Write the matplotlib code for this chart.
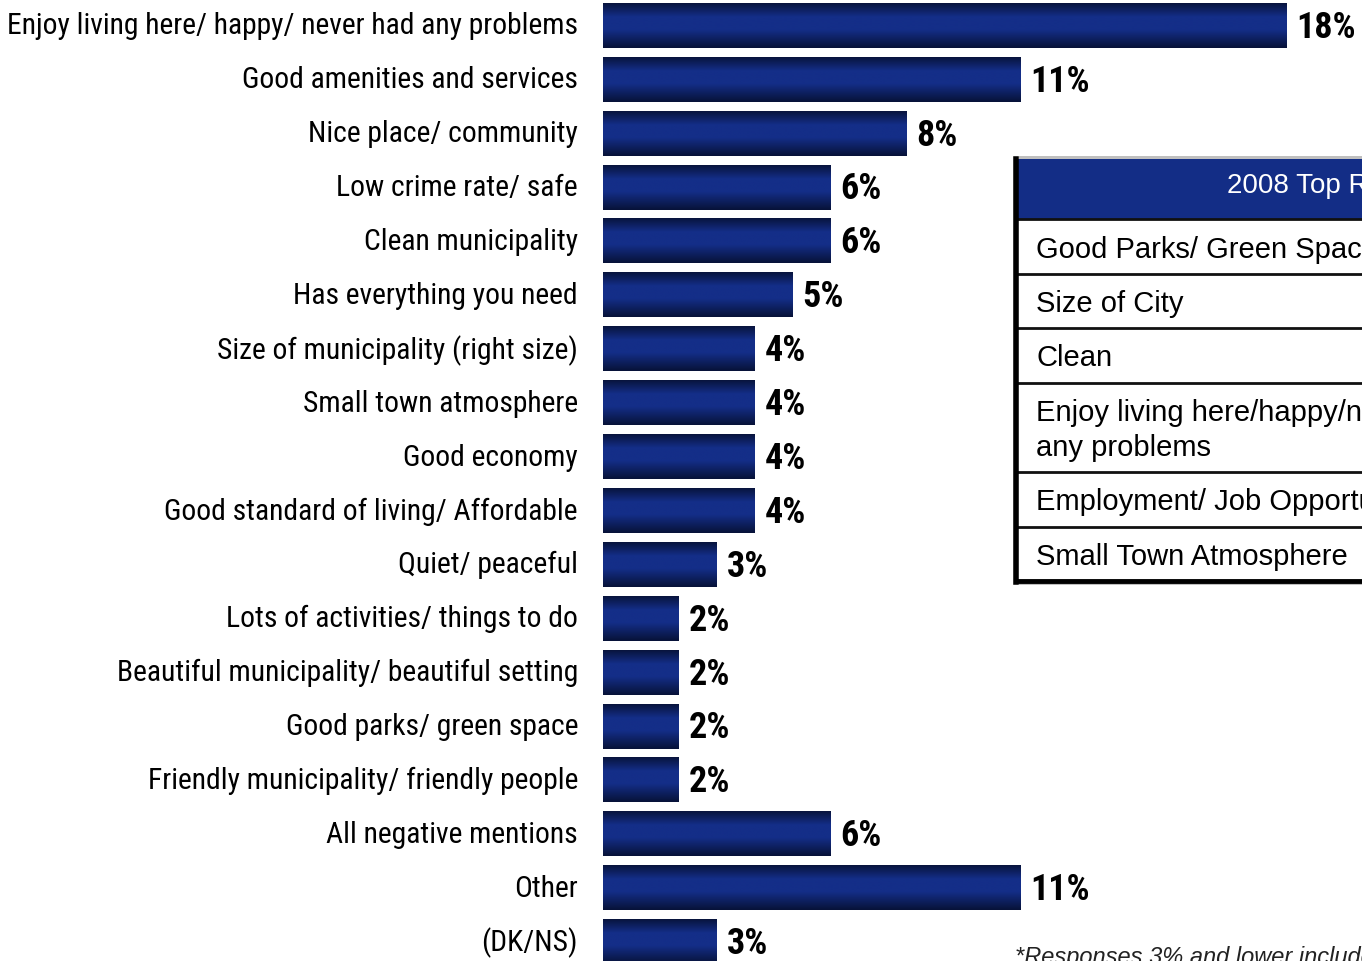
import numpy as np
import matplotlib
matplotlib.use("Agg")
import matplotlib.pyplot as plt
import matplotlib.patches as mpatches
import matplotlib.transforms as mtransforms
from matplotlib import font_manager

categories = ["Enjoy living here/ happy/ never had any problems",
              "Good amenities and services",
              "Nice place/ community",
              "Low crime rate/ safe",
              "Clean municipality",
              "Has everything you need",
              "Size of municipality (right size)",
              "Small town atmosphere",
              "Good economy",
              "Good standard of living/ Affordable",
              "Quiet/ peaceful",
              "Lots of activities/ things to do",
              "Beautiful municipality/ beautiful setting",
              "Good parks/ green space",
              "Friendly municipality/ friendly people",
              "All negative mentions",
              "Other",
              "(DK/NS)"]
values = [18, 11, 8, 6, 6, 5, 4, 4, 4, 4, 3, 2, 2, 2, 2, 6, 11, 3]

table_title = "2008 Top Reasons"
table_rows = ["Good Parks/ Green Space",
              "Size of City",
              "Clean",
              "Enjoy living here/happy/never had\nany problems",
              "Employment/ Job Opportunities",
              "Small Town Atmosphere"]
footnote = "*Responses 3% and lower included in Other"


def pick_font(names):
    for name in names:
        try:
            font_manager.findfont(name, fallback_to_default=False)
            return name
        except Exception:
            continue
    return "DejaVu Sans"


narrow = pick_font(["Liberation Sans Narrow", "Arial Narrow", "Roboto Condensed"])
sans = pick_font(["Liberation Sans", "Arial"])

W, H = 1362, 962
fig = plt.figure(figsize=(W / 100, H / 100), dpi=100)


def fx(x):
    return x / W


def fy(y):
    return 1 - y / H


# bar chart axes
ax = fig.add_axes([fx(603), 0, 1 - fx(603), 1])
ypos = np.arange(len(categories))
bar_h = 0.835
bars = ax.barh(ypos, values, height=bar_h, color="#0b1a4d", edgecolor="none")

# vertical gradient dark -> blue -> dark
t = np.linspace(0, 1, 100)
k = np.interp(t, [0, 0.32, 0.6, 1.0], [0, 1, 1, 0])
dark = np.array([0x07, 0x12, 0x38]) / 255
light = np.array([0x14, 0x2e, 0x88]) / 255
grad = (dark[None, :] * (1 - k[:, None]) + light[None, :] * k[:, None])[:, None, :]

for b, v in zip(bars, values):
    x0, y0 = b.get_x(), b.get_y()
    im = ax.imshow(grad, extent=(x0, x0 + b.get_width(), y0 + b.get_height(), y0),
                   aspect="auto", interpolation="bilinear", zorder=2)
    im.set_clip_path(b)
    ax.annotate(f"{v}%", xy=(v, y0 + b.get_height() / 2), xytext=(7, -1),
                textcoords="offset points", ha="left", va="center",
                fontsize=26, fontweight="bold", family=narrow, color="black")

ax.set_xlim(0, (W - 603) / 38.0)
ax.set_ylim(17.36, -0.49)
ax.set_yticks(ypos)
ax.set_yticklabels(categories, fontsize=21.3, family=narrow)
ax.tick_params(axis="y", length=0, pad=18)
up = mtransforms.ScaledTranslation(0, 3 / 100, fig.dpi_scale_trans)
for lab in ax.get_yticklabels():
    lab.set_transform(lab.get_transform() + up)
ax.set_xticks([])
for s in ax.spines.values():
    s.set_visible(False)

# table on the right
left, top, bottom = 1016, 160, 582
right = W + 200
fig.add_artist(mpatches.Rectangle((fx(left + 3), fy(bottom + 4)), fx(right - left),
                                  fy(top - 3) - fy(bottom + 4),
                                  facecolor="#bfbfbf", edgecolor="none", zorder=3))
fig.add_artist(mpatches.Rectangle((fx(left), fy(bottom)), fx(right - left),
                                  fy(top) - fy(bottom),
                                  facecolor="white", edgecolor="none", zorder=4))
fig.add_artist(mpatches.Rectangle((fx(left), fy(220)), fx(right - left),
                                  fy(top) - fy(220),
                                  facecolor="#132d86", edgecolor="none", zorder=5))
fig.text(fx(1227), fy(186), table_title, color="white", fontsize=20,
         family=sans, ha="left", va="center", zorder=6)

row_lines = [220, 275, 329, 384, 473, 528]
for yl in row_lines:
    fig.add_artist(plt.Line2D([fx(left), 1.2], [fy(yl), fy(yl)], color="#111111",
                              lw=2, zorder=6))
fig.add_artist(plt.Line2D([fx(left), 1.2], [fy(bottom), fy(bottom)], color="black",
                          lw=3.5, zorder=6))
fig.add_artist(plt.Line2D([fx(left), fx(left)], [fy(top), fy(bottom + 1)], color="black",
                          lw=4, zorder=6))

row_bounds = row_lines + [bottom]
for i, txt in enumerate(table_rows):
    yc = (row_bounds[i] + row_bounds[i + 1]) / 2
    fig.text(fx(1036), fy(yc + 2), txt, fontsize=21, family=sans, ha="left",
             va="center", linespacing=1.3, zorder=7)

fig.text(fx(1015), fy(958), footnote, fontsize=17, family=sans, style="italic",
         ha="left", va="center", color="#222222")

fig.savefig("out.png", dpi=100)
